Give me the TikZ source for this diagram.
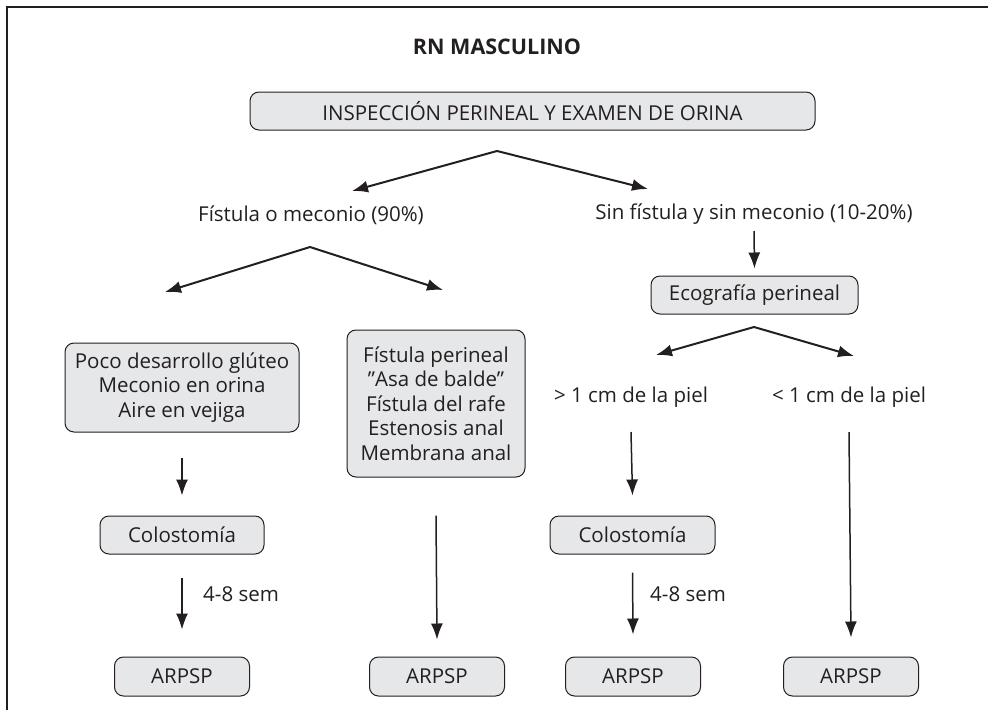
\documentclass[tikz,border=0pt]{standalone}
\usepackage{fontspec}
\setmainfont{Open Sans}
\usepackage{xcolor}
\usetikzlibrary{arrows.meta}

\definecolor{ink}{HTML}{231F20}
\definecolor{boxgray}{HTML}{E6E7E8}

\tikzset{
  box/.style={draw=ink, fill=boxgray, rounded corners=9pt, line width=1pt,
    align=center, inner sep=2pt, text=ink, font=\fontsize{20.5}{24.5}\selectfont},
  lbl/.style={inner sep=0pt, text=ink, font=\fontsize{20.5}{24.5}\selectfont},
  arr/.style={-{Latex[length=16pt,width=12pt]}, line width=1.5pt, draw=ink},
  splitarr/.style={{Latex[length=16pt,width=12pt]}-{Latex[length=16pt,width=12pt]},
    line width=2pt, draw=ink},
}

\begin{document}
\begin{tikzpicture}[x=1pt,y=-1pt]
\useasboundingbox (0,0) rectangle (988,710);
% frame
\draw[ink, line width=1.4pt] (7,710) -- (7,7) -- (988,7);
%
\node[lbl, font=\fontsize{21.5}{24}\selectfont\bfseries] (title) at (497,47) {RN MASCULINO};
\node[box, minimum width=565pt, minimum height=38pt] (insp) at (532.5,111) {INSPECCIÓN PERINEAL Y EXAMEN DE ORINA};
%
\node[lbl] (fist) at (311,215) {Fístula o meconio (90\%)};
\node[lbl] (sinf) at (754,214) {Sin fístula y sin meconio (10-20\%)};
\node[box, minimum width=207pt, minimum height=38pt] (eco) at (754.5,295) {Ecografía perineal};
\node[lbl] (mas) at (631,397) {> 1 cm de la piel};
\node[lbl] (men) at (849,397) {< 1 cm de la piel};
%
\node[box, minimum width=234pt, minimum height=89pt] (signos) at (182,387.5)
  {Poco desarrollo glúteo\\Meconio en orina\\Aire en vejiga};
\node[box, minimum width=178pt, minimum height=147pt] (perineal) at (436,403.5)
  {Fístula perineal\\”Asa de balde”\\Fístula del rafe\\Estenosis anal\\Membrana anal};
%
\node[box, minimum width=164pt, minimum height=38pt] (coloI) at (182,535) {Colostomía};
\node[box, minimum width=165pt, minimum height=38pt] (coloD) at (632.5,535) {Colostomía};
\node[lbl, anchor=west] (semI) at (203,594) {4-8 sem};
\node[lbl, anchor=west] (semD) at (650,594) {4-8 sem};
%
\node[box, minimum width=135pt, minimum height=39pt] (arpA) at (182,676.5) {ARPSP};
\node[box, minimum width=135pt, minimum height=39pt] (arpB) at (437,676.5) {ARPSP};
\node[box, minimum width=135pt, minimum height=39pt] (arpC) at (633,676.5) {ARPSP};
\node[box, minimum width=135pt, minimum height=39pt] (arpD) at (851,676.5) {ARPSP};
%
\coordinate (s1) at (497,151);
\coordinate (s1a) at (352,191);
\coordinate (s1b) at (648,189);
\coordinate (s2) at (310,247);
\coordinate (s2a) at (165,292);
\coordinate (s2b) at (443,290);
\coordinate (s3) at (754,327);
\coordinate (s3a) at (656,355);
\coordinate (s3b) at (854,356);
\draw[splitarr] (s1a) -- (s1) -- (s1b);
\draw[splitarr] (s2a) -- (s2) -- (s2b);
\draw[splitarr] (s3a) -- (s3) -- (s3b);
%
\draw[arr] ([yshift=-17pt]sinf.center) -- ([yshift=7pt]eco.north);
\draw[arr] ([yshift=-25pt]signos.south) -- ([yshift=20pt]coloI.north);
\draw[arr] ([yshift=-23pt]coloI.south) -- ([yshift=27pt]arpA.north);
\draw[arr] ([yshift=-38pt]perineal.south) -- ([yshift=17pt]arpB.north);
\draw[arr] ([yshift=-35pt]mas.center) -- ([yshift=20pt]coloD.north);
\draw[arr] ([yshift=-18pt]coloD.south) -- ([yshift=22pt]arpC.north);
\draw[arr] ([yshift=-35pt]men.center) -- ([yshift=19pt]arpD.north);
\end{tikzpicture}
\end{document}
